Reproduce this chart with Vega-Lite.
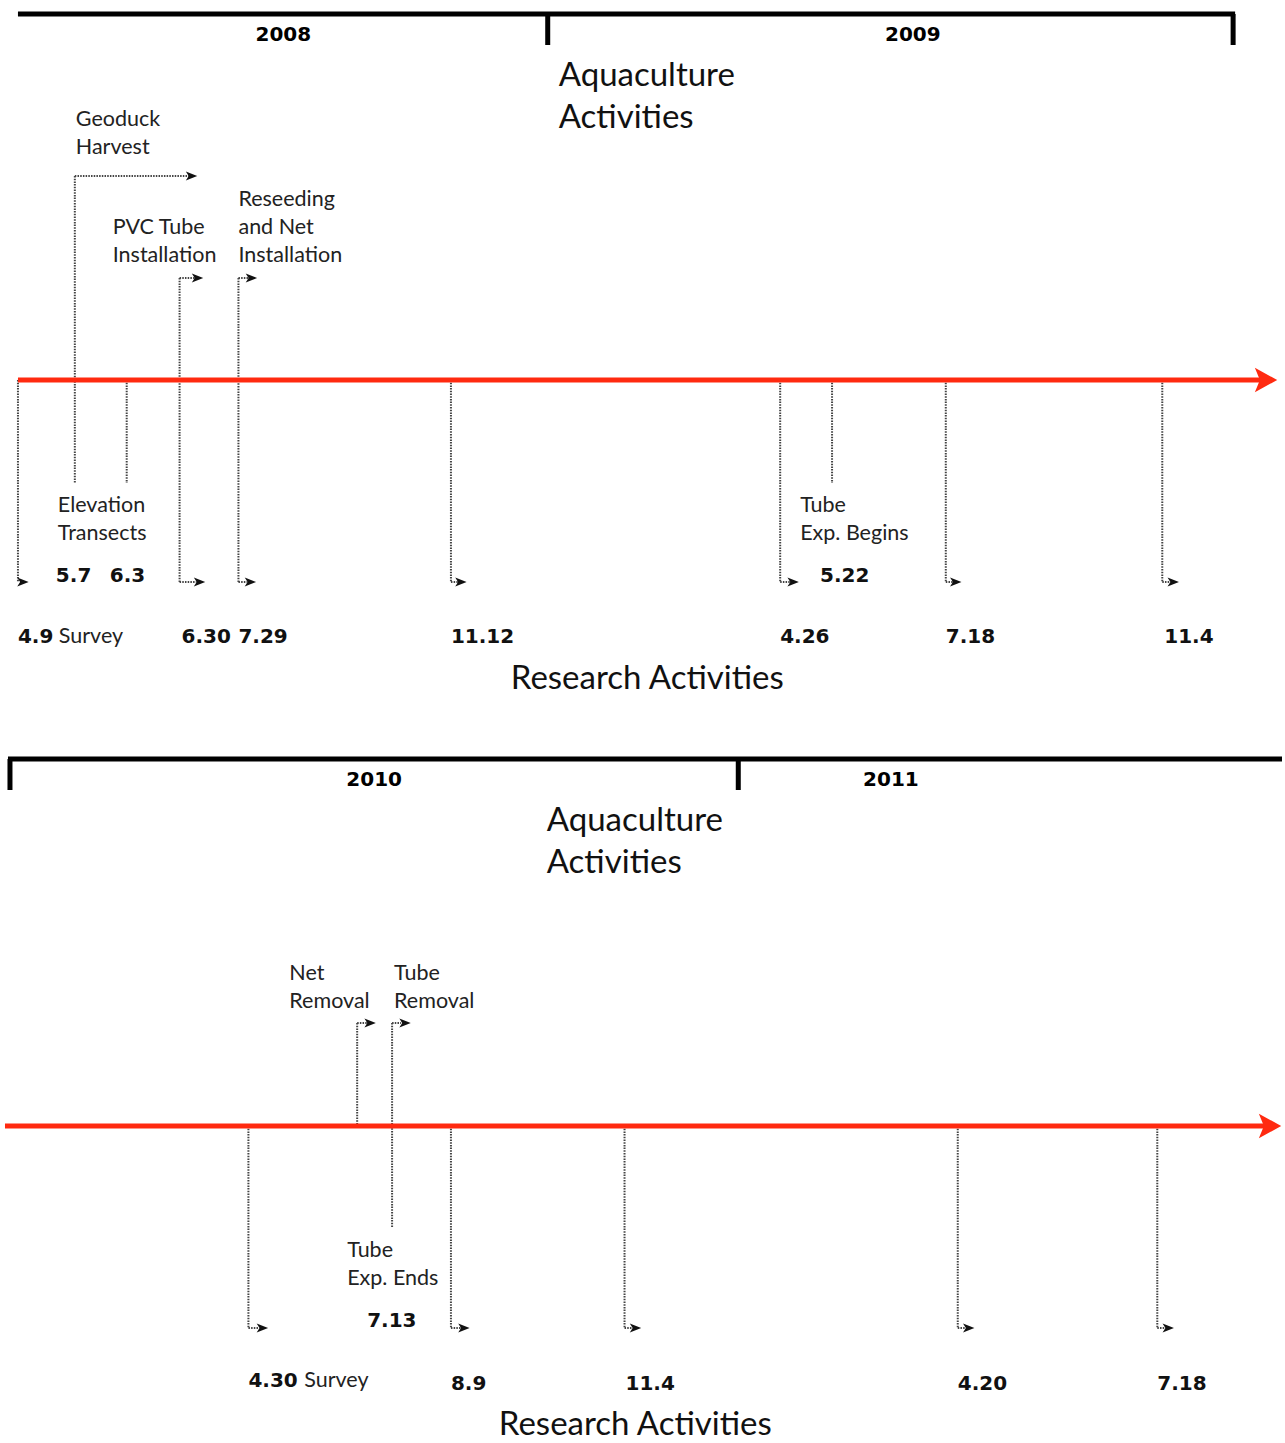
{
  "$schema": "https://vega.github.io/schema/vega-lite/v6.json",
  "width": 1285,
  "height": 1443,
  "padding": 0,
  "autosize": {"type": "fit", "contains": "padding"},
  "config": {"view": {"stroke": null}, "text": {"font": "Lato"}},
  "datasets": {
    "frame": [
      {"x": 18, "y": 14, "x2": 1238, "y2": 14},
      {"x": 549, "y": 14, "x2": 549, "y2": 45},
      {"x": 1236, "y": 14, "x2": 1236, "y2": 45},
      {"x": 8, "y": 759, "x2": 1285, "y2": 759},
      {"x": 10, "y": 759, "x2": 10, "y2": 790},
      {"x": 740, "y": 759, "x2": 740, "y2": 790}
    ],
    "timeline": [
      {"x": 18, "y": 380, "x2": 1266, "y2": 380},
      {"x": 5, "y": 1126, "x2": 1270, "y2": 1126}
    ],
    "timelineHeads": [
      {"x": 1269, "y": 380},
      {"x": 1273, "y": 1126}
    ],
    "connectors": [
      {"x": 18, "y": 380, "x2": 18, "y2": 582},
      {"x": 75, "y": 176, "x2": 75, "y2": 483},
      {"x": 75, "y": 176, "x2": 192, "y2": 176},
      {"x": 127, "y": 380, "x2": 127, "y2": 483},
      {"x": 180, "y": 278, "x2": 180, "y2": 582},
      {"x": 180, "y": 278, "x2": 195, "y2": 278},
      {"x": 180, "y": 582, "x2": 197, "y2": 582},
      {"x": 239, "y": 278, "x2": 239, "y2": 582},
      {"x": 239, "y": 278, "x2": 250, "y2": 278},
      {"x": 239, "y": 582, "x2": 248, "y2": 582},
      {"x": 452, "y": 380, "x2": 452, "y2": 582},
      {"x": 452, "y": 582, "x2": 460, "y2": 582},
      {"x": 782, "y": 380, "x2": 782, "y2": 582},
      {"x": 782, "y": 582, "x2": 792, "y2": 582},
      {"x": 834, "y": 380, "x2": 834, "y2": 483},
      {"x": 948, "y": 380, "x2": 948, "y2": 582},
      {"x": 948, "y": 582, "x2": 955, "y2": 582},
      {"x": 1165, "y": 380, "x2": 1165, "y2": 582},
      {"x": 1165, "y": 582, "x2": 1173, "y2": 582},
      {"x": 249, "y": 1126, "x2": 249, "y2": 1328},
      {"x": 249, "y": 1328, "x2": 260, "y2": 1328},
      {"x": 358, "y": 1023, "x2": 358, "y2": 1126},
      {"x": 358, "y": 1023, "x2": 368, "y2": 1023},
      {"x": 393, "y": 1023, "x2": 393, "y2": 1228},
      {"x": 393, "y": 1023, "x2": 402, "y2": 1023},
      {"x": 452, "y": 1126, "x2": 452, "y2": 1328},
      {"x": 452, "y": 1328, "x2": 462, "y2": 1328},
      {"x": 626, "y": 1126, "x2": 626, "y2": 1328},
      {"x": 626, "y": 1328, "x2": 634, "y2": 1328},
      {"x": 960, "y": 1126, "x2": 960, "y2": 1328},
      {"x": 960, "y": 1328, "x2": 968, "y2": 1328},
      {"x": 1160, "y": 1126, "x2": 1160, "y2": 1328},
      {"x": 1160, "y": 1328, "x2": 1168, "y2": 1328}
    ],
    "heads": [
      {"x": 23, "y": 582},
      {"x": 192, "y": 176},
      {"x": 198, "y": 278},
      {"x": 200, "y": 582},
      {"x": 252, "y": 278},
      {"x": 251, "y": 582},
      {"x": 462, "y": 582},
      {"x": 795, "y": 582},
      {"x": 958, "y": 582},
      {"x": 1176, "y": 582},
      {"x": 263, "y": 1328},
      {"x": 371, "y": 1023},
      {"x": 406, "y": 1023},
      {"x": 465, "y": 1328},
      {"x": 637, "y": 1328},
      {"x": 971, "y": 1328},
      {"x": 1171, "y": 1328}
    ],
    "years": [
      {"x": 284, "y": 35, "t": "2008"},
      {"x": 915, "y": 35, "t": "2009"},
      {"x": 375, "y": 780, "t": "2010"},
      {"x": 893, "y": 780, "t": "2011"}
    ],
    "titles": [
      {"x": 560, "y": 76, "t": "Aquaculture"},
      {"x": 560, "y": 118, "t": "Activities"},
      {"x": 512, "y": 679, "t": "Research Activities"},
      {"x": 548, "y": 821, "t": "Aquaculture"},
      {"x": 548, "y": 863, "t": "Activities"},
      {"x": 500, "y": 1425, "t": "Research Activities"}
    ],
    "labels": [
      {"x": 76, "y": 120, "t": "Geoduck"},
      {"x": 76, "y": 148, "t": "Harvest"},
      {"x": 113, "y": 228, "t": "PVC Tube"},
      {"x": 113, "y": 256, "t": "Installation"},
      {"x": 239, "y": 200, "t": "Reseeding"},
      {"x": 239, "y": 228, "t": "and Net"},
      {"x": 239, "y": 256, "t": "Installation"},
      {"x": 58, "y": 506, "t": "Elevation"},
      {"x": 58, "y": 534, "t": "Transects"},
      {"x": 802, "y": 506, "t": "Tube"},
      {"x": 802, "y": 534, "t": "Exp. Begins"},
      {"x": 59, "y": 637, "t": "Survey"},
      {"x": 290, "y": 974, "t": "Net"},
      {"x": 290, "y": 1002, "t": "Removal"},
      {"x": 395, "y": 974, "t": "Tube"},
      {"x": 395, "y": 1002, "t": "Removal"},
      {"x": 348, "y": 1251, "t": "Tube"},
      {"x": 348, "y": 1279, "t": "Exp. Ends"},
      {"x": 305, "y": 1381, "t": "Survey"}
    ],
    "dates": [
      {"x": 56, "y": 576, "t": "5.7"},
      {"x": 110, "y": 576, "t": "6.3"},
      {"x": 822, "y": 576, "t": "5.22"},
      {"x": 18, "y": 637, "t": "4.9"},
      {"x": 182, "y": 637, "t": "6.30"},
      {"x": 239, "y": 637, "t": "7.29"},
      {"x": 452, "y": 637, "t": "11.12"},
      {"x": 782, "y": 637, "t": "4.26"},
      {"x": 948, "y": 637, "t": "7.18"},
      {"x": 1167, "y": 637, "t": "11.4"},
      {"x": 368, "y": 1321, "t": "7.13"},
      {"x": 249, "y": 1381, "t": "4.30"},
      {"x": 452, "y": 1384, "t": "8.9"},
      {"x": 627, "y": 1384, "t": "11.4"},
      {"x": 960, "y": 1384, "t": "4.20"},
      {"x": 1160, "y": 1384, "t": "7.18"}
    ]
  },
  "encoding": {
    "x": {"field": "x", "type": "quantitative", "scale": {"domain": [0, 1285], "nice": false, "zero": false}, "axis": null},
    "y": {"field": "y", "type": "quantitative", "scale": {"domain": [0, 1443], "nice": false, "zero": false, "reverse": true}, "axis": null}
  },
  "layer": [
    {
      "data": {"name": "frame"},
      "mark": {"type": "rule", "color": "#000000", "strokeWidth": 5, "strokeCap": "butt"},
      "encoding": {"x2": {"field": "x2"}, "y2": {"field": "y2"}}
    },
    {
      "data": {"name": "connectors"},
      "mark": {"type": "rule", "color": "#444444", "strokeWidth": 2, "strokeDash": [1.5, 1.2]},
      "encoding": {"x2": {"field": "x2"}, "y2": {"field": "y2"}}
    },
    {
      "data": {"name": "timeline"},
      "mark": {"type": "rule", "color": "#ff2a10", "strokeWidth": 5, "strokeCap": "butt"},
      "encoding": {"x2": {"field": "x2"}, "y2": {"field": "y2"}}
    },
    {
      "data": {"name": "timelineHeads"},
      "mark": {"type": "point", "shape": "M-1,-1.1L1,0L-1,1.1L-0.55,0Z", "filled": true, "color": "#ff2a10", "opacity": 1, "size": 500, "strokeWidth": 0}
    },
    {
      "data": {"name": "heads"},
      "mark": {"type": "point", "shape": "M-1,-0.8L1,0L-1,0.8L-0.5,0Z", "filled": true, "color": "#111111", "opacity": 1, "size": 130, "strokeWidth": 0}
    },
    {
      "data": {"name": "years"},
      "mark": {"type": "text", "font": "DejaVu Sans", "fontWeight": "bold", "fontSize": 20, "align": "center", "baseline": "middle", "color": "#000000"},
      "encoding": {"text": {"field": "t"}}
    },
    {
      "data": {"name": "titles"},
      "mark": {"type": "text", "fontSize": 33, "align": "left", "baseline": "middle", "color": "#111111"},
      "encoding": {"text": {"field": "t"}}
    },
    {
      "data": {"name": "labels"},
      "mark": {"type": "text", "fontSize": 21.5, "align": "left", "baseline": "middle", "color": "#222222"},
      "encoding": {"text": {"field": "t"}}
    },
    {
      "data": {"name": "dates"},
      "mark": {"type": "text", "font": "DejaVu Sans", "fontSize": 20, "fontWeight": "bold", "align": "left", "baseline": "middle", "color": "#111111"},
      "encoding": {"text": {"field": "t"}}
    }
  ]
}
